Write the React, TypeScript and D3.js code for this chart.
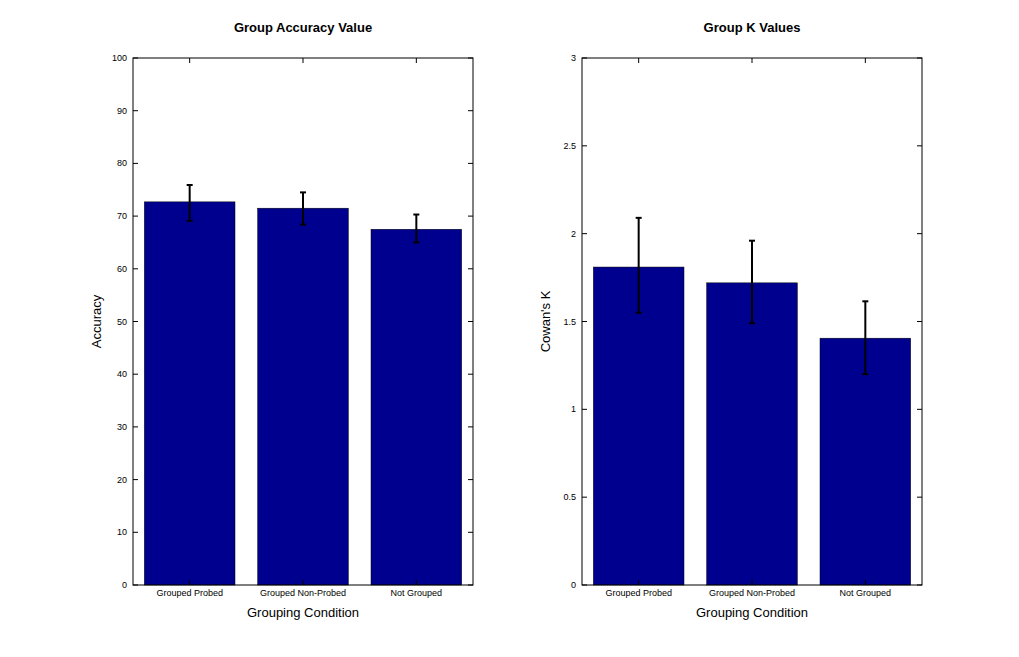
import * as d3 from 'd3';

const categories = ['Grouped Probed', 'Grouped Non-Probed', 'Not Grouped'];
const accuracy = [72.7, 71.5, 67.5];
const accuracyLow = [69.1, 68.4, 65.0];
const accuracyHigh = [75.9, 74.5, 70.3];
const accuracyTicks = [0, 10, 20, 30, 40, 50, 60, 70, 80, 90, 100];
const kValues = [1.81, 1.72, 1.405];
const kLow = [1.55, 1.49, 1.2];
const kHigh = [2.09, 1.96, 1.615];
const kTicks = [0, 0.5, 1, 1.5, 2, 2.5, 3];

const font = 'Arial, "Liberation Sans", sans-serif';

function Panel({ x0, title, ylabel, values, low, high, ticks, max }: {
  x0: number; title: string; ylabel: string; values: number[]; low: number[]; high: number[]; ticks: number[]; max: number;
}) {
  const w = 340, top = 58, bottom = 585;
  const x = d3.scaleBand().domain(categories).range([x0, x0 + w]).paddingInner(0.2).paddingOuter(0.1);
  const y = d3.scaleLinear().domain([0, max]).range([bottom, top]);
  return (
    <g fontFamily={font}>
      <text x={x0 + w / 2} y={32} textAnchor="middle" fontSize={13} fontWeight="bold">{title}</text>
      {values.map((v, i) => (
        <rect key={i} x={x(categories[i])} y={y(v)} width={x.bandwidth()} height={bottom - y(v)} fill="#00008f" stroke="#000" strokeWidth={0.5} />
      ))}
      {values.map((v, i) => {
        const cx = x(categories[i])! + x.bandwidth() / 2;
        return (
          <g key={'e' + i} stroke="#000" strokeWidth={2}>
            <line x1={cx} x2={cx} y1={y(low[i])} y2={y(high[i])} />
            <line x1={cx - 3} x2={cx + 3} y1={y(low[i])} y2={y(low[i])} />
            <line x1={cx - 3} x2={cx + 3} y1={y(high[i])} y2={y(high[i])} />
          </g>
        );
      })}
      <rect x={x0} y={top} width={w} height={bottom - top} fill="none" stroke="#000" strokeWidth={1} />
      {ticks.map(t => (
        <g key={t}>
          <line x1={x0} x2={x0 + 5} y1={y(t)} y2={y(t)} stroke="#000" />
          <line x1={x0 + w - 5} x2={x0 + w} y1={y(t)} y2={y(t)} stroke="#000" />
          <text x={x0 - 6} y={y(t) + 3} textAnchor="end" fontSize={9}>{t}</text>
        </g>
      ))}
      {categories.map(c => {
        const cx = x(c)! + x.bandwidth() / 2;
        return (
          <g key={c}>
            <line x1={cx} x2={cx} y1={bottom} y2={bottom - 5} stroke="#000" />
            <line x1={cx} x2={cx} y1={top} y2={top + 5} stroke="#000" />
            <text x={cx} y={596} textAnchor="middle" fontSize={9}>{c}</text>
          </g>
        );
      })}
      <text x={x0 + w / 2} y={617} textAnchor="middle" fontSize={13}>Grouping Condition</text>
      <text transform={`translate(${x0 - 32},${(top + bottom) / 2}) rotate(-90)`} textAnchor="middle" fontSize={13}>{ylabel}</text>
    </g>
  );
}

export default function App() {
  return (
    <svg width={1019} height={657} style={{ position: 'absolute', left: 0, top: 0, background: '#fff' }}>
      <rect width={1019} height={657} fill="#fff" />
      <Panel x0={133} title="Group Accuracy Value" ylabel="Accuracy" values={accuracy} low={accuracyLow} high={accuracyHigh} ticks={accuracyTicks} max={100} />
      <Panel x0={582} title="Group K Values" ylabel="Cowan's K" values={kValues} low={kLow} high={kHigh} ticks={kTicks} max={3} />
    </svg>
  );
}
